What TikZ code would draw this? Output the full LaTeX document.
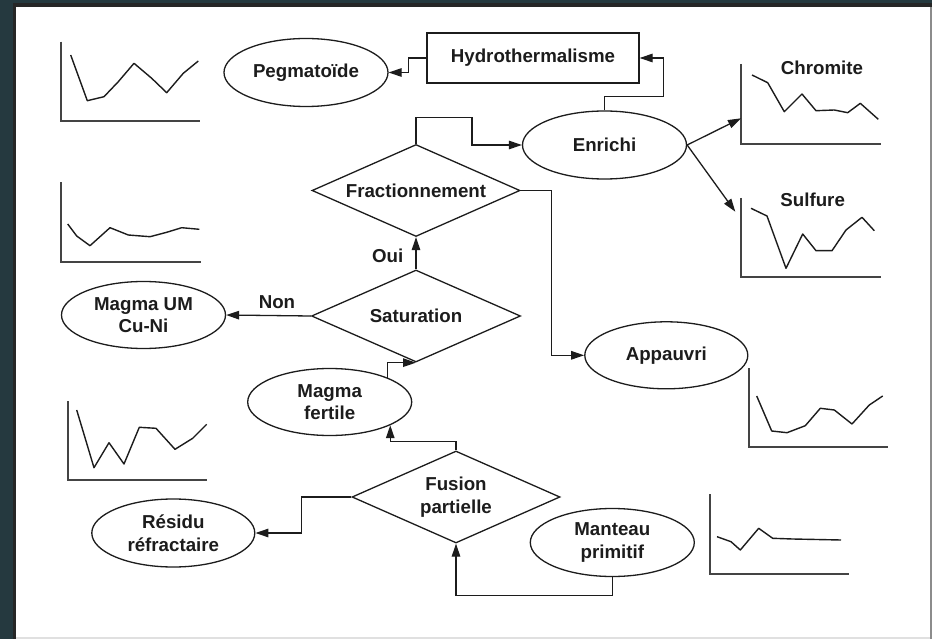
\documentclass[tikz,border=0pt]{standalone}
\usepackage{fontspec}
\setmainfont{Liberation Sans}
\usetikzlibrary{shapes.geometric,arrows.meta,calc}

\definecolor{frameteal}{RGB}{37,57,63}
\definecolor{ink}{RGB}{28,28,28}
\definecolor{axisgray}{RGB}{68,68,68}

\begin{document}
\begin{tikzpicture}[x=1pt,y=-1pt,
  txt/.style={font=\fontsize{18.7}{22.5}\selectfont\bfseries, text=ink},
  oval/.style={txt, ellipse, draw=ink, line width=1.3pt, inner sep=0pt,
               minimum width=164pt, minimum height=68pt, align=center},
  choice/.style={diamond, draw=ink, line width=1.3pt, inner sep=0pt,
                 minimum width=208pt, minimum height=92pt},
  caption/.style={txt, align=center, inner sep=0pt},
  box/.style={txt, rectangle, draw=ink, line width=1.3pt, inner sep=0pt,
              minimum width=212pt, minimum height=50pt},
  flow/.style={draw=ink, line width=1.3pt, -{Triangle[length=13pt,width=8.5pt]}},
  axes/.style={draw=axisgray, line width=1.8pt},
  trace/.style={draw=ink, line width=1.4pt, line join=round},
]
\useasboundingbox (0,0) rectangle (932,639);

% page frame
\fill[frameteal] (0,0) rectangle (932,639);
\fill[black!85] (13,3) rectangle (932,639);
\fill[white] (16,7) rectangle (930,637);
\fill[black!45] (930,7) rectangle (932,639);
\fill[black!12] (16,637) rectangle (930,639);

% process nodes
\node[oval]  (peg)   at (306,72.5)    {Pegmatoïde};
\node[box]   (hydro) at (533,58)      {Hydrothermalisme};
\node[oval]  (enr)   at (604.5,145)   {Enrichi};
\node[choice, label={[caption]center:Fractionnement}] (frac) at (416,190.5) {};
\node[choice, minimum width=209pt, label={[caption]center:Saturation}] (sat) at (416,316) {};
\node[oval, minimum height=67pt] (mum)   at (143.5,315)  {Magma UM\\Cu-Ni};
\node[oval, minimum height=67pt] (mfert) at (329.7,402)  {Magma\\fertile};
\node[choice, label={[caption]center:Fusion\\partielle}] (fus) at (456,497) {};
\node[oval, minimum width=163pt] (res)  at (173.3,533)  {Résidu\\réfractaire};
\node[oval]  (mant)  at (612.3,542.5) {Manteau\\primitif};
\node[oval, minimum width=163pt, minimum height=67pt] (app) at (666.3,355.3) {Appauvri};

% chart labels and arrow targets
\node[caption] (chrlbl) at (822,68)    {Chromite};
\node[caption] (sullbl) at (812.7,200) {Sulfure};
\coordinate (chr) at (741,118.3);
\coordinate (sul) at (735.3,211.7);

% small profile charts
\draw[axes] (60.7,41.7) |- (200,120.7);
\draw[trace] (70.7,55) -- (87.3,100.7) -- (104,96.7) -- (118.3,81.7) -- (134,63.3)
  -- (151.7,78.3) -- (166.7,92.7) -- (183.3,73.3) -- (198.3,61);

\draw[axes] (61,182.3) |- (200.7,261.7);
\draw[trace] (67.7,224) -- (76.7,236) -- (90,245.7) -- (110,227.7) -- (128.3,235)
  -- (150,236.7) -- (166.7,232.3) -- (181.7,227.7) -- (199.3,229.3);

\draw[axes] (68.3,401) |- (206.7,480);
\draw[trace] (76.7,410) -- (94,467.7) -- (109,442.7) -- (124,464) -- (139.3,427.3)
  -- (156,428.3) -- (175,449.3) -- (192.7,438.3) -- (206.7,424.3);

\draw[axes] (741.3,64) |- (881,144);
\draw[trace] (752,75) -- (767.7,82.7) -- (784.3,111.7) -- (802,94) -- (816,110.7)
  -- (834.3,110) -- (847.7,112.7) -- (860.3,103.3) -- (878.3,119.3);

\draw[axes] (741.3,198) |- (881,277);
\draw[trace] (751,208.3) -- (767,216) -- (786,268.3) -- (802.7,234) -- (816,250.7)
  -- (832,250.7) -- (846,230) -- (862,217.3) -- (874.3,230.7);

\draw[axes] (748.7,368.3) |- (888.3,447.3);
\draw[trace] (756.7,396) -- (771.7,431) -- (787,432.7) -- (805.3,425.7) -- (820.3,408.3)
  -- (834.3,410) -- (852,424) -- (869.3,405) -- (882.7,396);

\draw[axes] (710,494) |- (849.3,574);
\draw[trace] (717,536.7) -- (731,541.7) -- (740.3,550) -- (758.7,528.3) -- (772.7,538.3)
  -- (792.7,539) -- (841,540);

% connectors
\draw[flow] (hydro.west) -- ($(hydro.west)+(-18,0)$) |- (peg.east);
\draw[flow] (enr.north) -- ++(0,-14) -| ($(hydro.east)+(24,0)$) -- (hydro.east);
\draw[flow] (frac.north) -- ++(0,-26) -| ($(enr.west)+(-50,0)$) -- (enr.west);
\draw[flow] (frac.east) -- ($(frac.east)+(31,0)$) |- (app.west);
\draw[flow] (enr.east) -- (chr);
\draw[flow] (enr.east) -- (sul);
\draw[flow] (sat.north) -- node[caption, pos=0.42, left=12pt] {Oui} (frac.south);
\draw[flow] (sat.west) -- node[caption, pos=0.4, above=6pt] {Non} (mum.east);
\draw[flow] (mfert.23) |- (sat.south);
\draw[flow] (fus.north) -- ++(0,-9) -| (mfert.-21);
\draw[flow] (fus.west) -- ++(-50,0) |- (res.east);
\draw[flow] (mant.south) -- ++(0,18) -| (fus.south);
\end{tikzpicture}
\end{document}
